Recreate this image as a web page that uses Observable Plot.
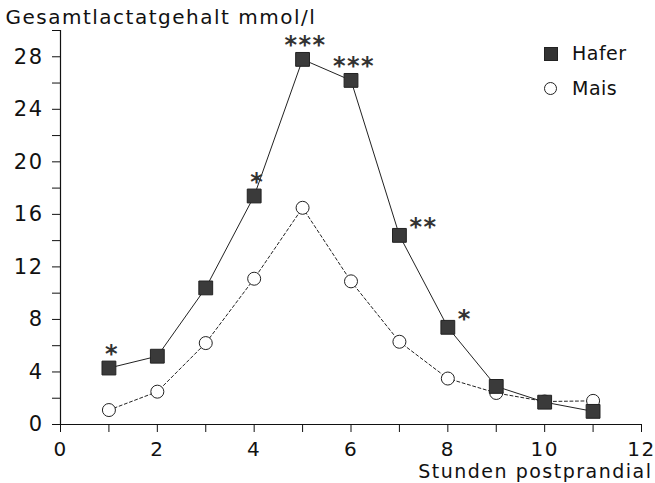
<!DOCTYPE html>
<html><head><meta charset="utf-8">
<script src="https://cdn.jsdelivr.net/npm/d3@7"></script>
<script src="https://cdn.jsdelivr.net/npm/@observablehq/plot@0.6"></script>
<style>
body{margin:0;background:#fff;}
#wrap{position:relative;width:655px;height:483px;font-family:"DejaVu Sans",sans-serif;}
#wrap svg text{letter-spacing:1.5px;}
#wrap svg text.xt{letter-spacing:2px;}
#legend{position:absolute;left:544px;top:36px;font-size:19px;color:#111;line-height:35px;letter-spacing:0.5px;}
#legend .row{display:flex;align-items:center;}
#legend .sq{width:12px;height:12px;background:#333;border:1px solid #222;margin-right:14px;}
#legend .ci{width:11px;height:11px;border:1px solid #222;border-radius:50%;background:#fff;margin-right:15px;}
</style></head>
<body><div id="wrap"><div id="legend"><div class="row"><span class="sq"></span>Hafer</div><div class="row"><span class="ci"></span>Mais</div></div></div>
<script>
const hours = [1,2,3,4,5,6,7,8,9,10,11];
const hafer = [4.3,5.2,10.4,17.4,27.8,26.2,14.4,7.4,2.9,1.7,1.0];
const mais  = [1.1,2.5,6.2,11.1,16.5,10.9,6.3,3.5,2.4,1.75,1.8];
const sigHours = [1,4,5,6,7,8];
const sigLabels = ["*","*","***","***","**","*"];
const sigSide = ["top","top","top","top","right","right"];
const xTicks = d3.range(0,13,1);
const yTicks = d3.range(0,31,2);
const title = "Gesamtlactatgehalt mmol/l";
const xTitle = "Stunden postprandial";

const H = hours.map((h,i)=>({h, v:hafer[i]}));
const M = hours.map((h,i)=>({h, v:mais[i]}));
const S = sigHours.map((h,i)=>({h, v:hafer[hours.indexOf(h)], label:sigLabels[i], side:sigSide[i]}));

const chart = Plot.plot({
  width:655, height:483,
  marginLeft:60, marginRight:14, marginTop:30, marginBottom:59,
  style:{fontFamily:"DejaVu Sans, sans-serif", background:"#fff", color:"#111"},
  x:{domain:[0,12]},
  y:{domain:[0,30]},
  marks:[
    Plot.ruleX([0],{y1:0,y2:30,stroke:"#111",strokeWidth:1.2}),
    Plot.ruleY([0],{x1:0,x2:12,stroke:"#111",strokeWidth:1.2}),
    Plot.axisX({ticks:xTicks, tickFormat:d=>d%2===0?d:"", tickSize:8, tickPadding:9, fontSize:20, label:null, stroke:"#111"}),
    Plot.axisY({ticks:yTicks, tickFormat:d=>d%4===0?d:"", tickSize:8, tickPadding:9, fontSize:21, label:null, stroke:"#111"}),
    Plot.line(M,{x:"h",y:"v",stroke:"#222",strokeWidth:1,strokeDasharray:"3,2.5"}),
    Plot.line(H,{x:"h",y:"v",stroke:"#222",strokeWidth:1}),
    Plot.dot(M,{x:"h",y:"v",r:6.5,fill:"#fff",stroke:"#222",strokeWidth:1}),
    Plot.dot(H,{x:"h",y:"v",symbol:"square",r:7.8,fill:"#3a3a3a",stroke:"#222",strokeWidth:1}),
    Plot.text(S.filter(d=>d.side==="top"),{x:"h",y:"v",text:"label",dx:3,dy:-14,fontSize:24,fontWeight:"bold",fill:"#333",lineAnchor:"middle"}),
    Plot.text(S.filter(d=>d.side==="right"),{x:"h",y:"v",text:"label",dx:10,dy:-8,textAnchor:"start",fontSize:24,fontWeight:"bold",fill:"#333",lineAnchor:"middle"}),
    Plot.text([title],{frameAnchor:"top-left",dx:-55,dy:-13,textAnchor:"start",fontSize:20,fill:"#111",lineAnchor:"middle"}),
    Plot.text([xTitle],{frameAnchor:"bottom-right",dx:11,dy:47,textAnchor:"end",fontSize:19,fill:"#111",lineAnchor:"middle",className:"xt"})
  ]
});
document.getElementById("wrap").prepend(chart);
</script></body></html>
